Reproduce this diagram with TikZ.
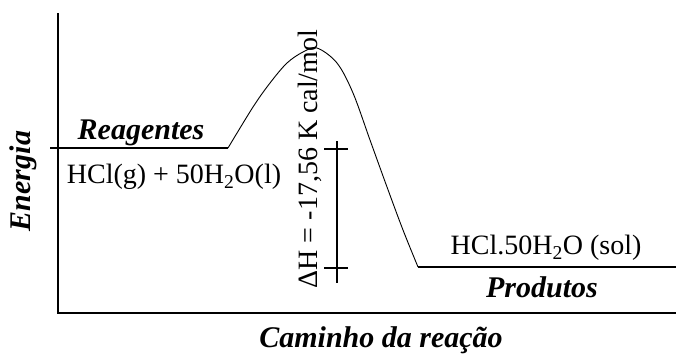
\documentclass[tikz,border=0pt]{standalone}
\usepackage{fontspec}
\setmainfont{Liberation Serif}
\begin{document}
\begin{tikzpicture}[x=1pt,y=-1pt,
  axis/.style={line width=1.5pt},
  level/.style={line width=1.2pt},
  curve/.style={line width=0.9pt},
  lbl/.style={inner sep=0pt,font=\fontsize{28}{30}\selectfont},
  blbl/.style={inner sep=0pt,font=\fontsize{30}{32}\selectfont\bfseries\itshape}]
\useasboundingbox (0,0) rectangle (676,354);
% axes
\coordinate (ytop) at (58,13);
\coordinate (orig) at (58,313);
\coordinate (xend) at (676,313);
\draw[axis] (ytop) -- (orig) -- (xend);
% reactant level
\coordinate (rl) at (50,148);
\coordinate (rr) at (228,148);
\draw[level] (rl) -- (rr);
% product level
\coordinate (pl) at (418,267);
\coordinate (pr) at (676,267);
\draw[level] (pl) -- (pr);
% energy curve
\draw[curve] plot[smooth,tension=0.55] coordinates {(rr) (253,107) (270,83) (287,63) (303,52) (317,48) (337,63) (353,93) (370,140) (387,187) (403,230) (pl)};
% delta H bar
\coordinate (bt) at (337,141);
\coordinate (bb) at (337,283);
\coordinate (t1l) at (324,149);
\coordinate (t1r) at (348,149);
\coordinate (t2l) at (324,268);
\coordinate (t2r) at (348,268);
\draw[level] (bt) -- (bb);
\draw[level] (t1l) -- (t1r);
\draw[level] (t2l) -- (t2r);
% labels
\node[blbl,rotate=90] (energia) at (23,181) {Energia};
\node[blbl] (reag) at (141,133) {Reagentes};
\node[lbl] (react) at (174,177) {HCl(g) + 50H\textsubscript{2}O(l)};
\node[lbl,rotate=90] (dh) at (310,159) {ΔH = -17,56 K cal/mol};
\node[lbl] (prod) at (546,248) {HCl.50H\textsubscript{2}O (sol)};
\node[blbl] (produtos) at (542,287) {Produtos};
\node[blbl] (caminho) at (381,340) {Caminho da reação};
\end{tikzpicture}
\end{document}
